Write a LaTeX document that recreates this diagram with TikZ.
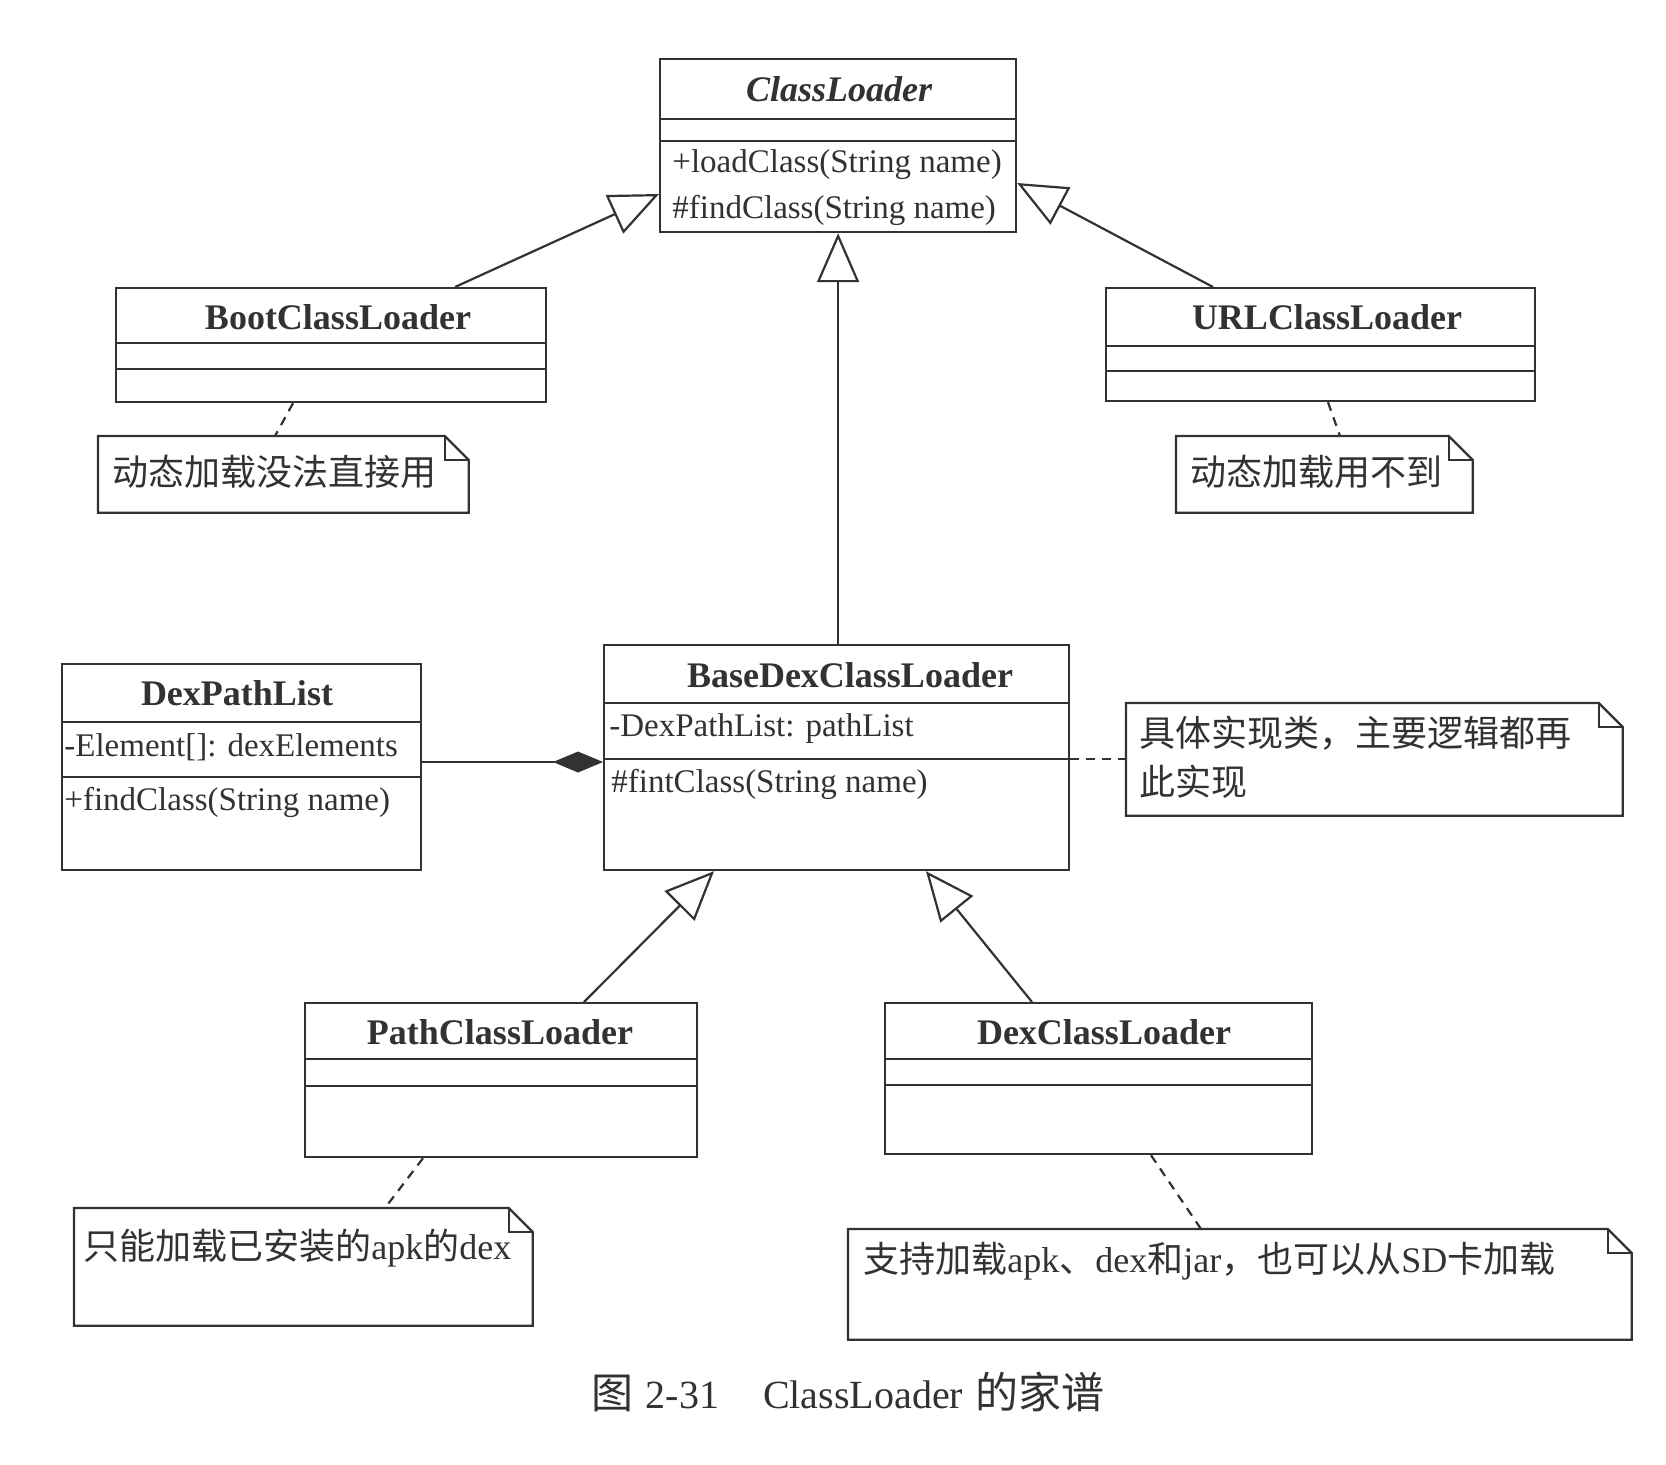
\documentclass[tikz,border=0pt]{standalone}
\usepackage{fontspec}
\setmainfont{Liberation Serif}
\newfontfamily\cjk{Noto Sans CJK SC}
\usetikzlibrary{arrows.meta,calc}
\definecolor{ink}{RGB}{50,50,50}
\newcommand\divline[2]{\draw[divl] (#1.west |- 0,#2) -- (#1.east |- 0,#2);}
\newcommand\notepath[1]{%
  \draw[divl] (#1.north west) -- ([xshift=-12pt]#1.north east) -- ([yshift=-12pt]#1.north east) -- (#1.south east) -- (#1.south west) -- cycle;
  \draw[divl] ([xshift=-12pt]#1.north east) |- ([yshift=-12pt]#1.north east);}
\begin{document}
\begin{tikzpicture}[x=0.5pt,y=-0.5pt,
  umlbox/.style={draw=ink, line width=1.1pt, rectangle, inner sep=0pt, anchor=north west},
  notebox/.style={rectangle, inner sep=0pt, anchor=north west},
  ttl/.style={inner sep=0pt, text=ink, font=\fontsize{18pt}{21pt}\selectfont\bfseries},
  mem/.style={inner sep=0pt, anchor=west, text=ink, font=\fontsize{16.5pt}{20pt}\selectfont},
  ntxt/.style={inner sep=0pt, anchor=west, text=ink, font=\fontsize{18pt}{24.5pt}\selectfont\cjk},
  inh/.style={draw=ink, line width=1.1pt, -{Triangle[open, length=24.5pt, width=21pt]}},
  comp/.style={draw=ink, line width=1.1pt, -{Diamond[length=25pt, width=10.5pt, fill=ink]}},
  link/.style={draw=ink, line width=1.1pt, dash pattern=on 4.5pt off 3.5pt},
  divl/.style={draw=ink, line width=1.1pt}]
\fill[white] (0,0) rectangle (1666,1464);
\useasboundingbox (0,0) rectangle (1666,1464);

% class boxes
\node[umlbox, minimum width=178pt, minimum height=86.5pt] (cl) at (659,58) {};
\divline{cl}{119}\divline{cl}{141}
\node[umlbox, minimum width=215pt, minimum height=57pt] (boot) at (115,287) {};
\divline{boot}{343}\divline{boot}{369}
\node[umlbox, minimum width=214.5pt, minimum height=56.5pt] (url) at (1105,287) {};
\divline{url}{346}\divline{url}{371}
\node[umlbox, minimum width=179.5pt, minimum height=103pt] (dpl) at (61,663) {};
\divline{dpl}{722}\divline{dpl}{777}
\node[umlbox, minimum width=232.5pt, minimum height=112.5pt] (base) at (603,644) {};
\divline{base}{703}\divline{base}{759}
\node[umlbox, minimum width=196pt, minimum height=77pt] (path) at (304,1002) {};
\divline{path}{1059}\divline{path}{1086}
\node[umlbox, minimum width=213.5pt, minimum height=75.5pt] (dex) at (884,1002) {};
\divline{dex}{1059}\divline{dex}{1085}

% class texts
\node[ttl] (clT) at (839,89) {\itshape ClassLoader};
\node[mem] (clM1) at (672,165) {+loadClass(String name)};
\node[mem] (clM2) at (672,210) {\#findClass(String name)};
\node[ttl] (bootT) at (338,317) {BootClassLoader};
\node[ttl] (urlT) at (1327,317) {URLClassLoader};
\node[ttl] (dplT) at (237,693) {DexPathList};
\node[mem] (dplA) at (64,747) {-Element[]: dexElements};
\node[mem] (dplM) at (64,802) {+findClass(String name)};
\node[ttl] (baseT) at (850,675) {BaseDexClassLoader};
\node[mem] (baseA) at (609,729) {-DexPathList: pathList};
\node[mem] (baseM) at (611,784) {\#fintClass(String name)};
\node[ttl] (pathT) at (500,1032) {PathClassLoader};
\node[ttl] (dexT) at (1104,1032) {DexClassLoader};

% notes
\node[notebox, minimum width=185pt, minimum height=38pt] (nboot) at (98,436) {};
\notepath{nboot}
\node[ntxt] (nbootT) at (112,472) {动态加载没法直接用};
\node[notebox, minimum width=148pt, minimum height=38pt] (nurl) at (1176,436) {};
\notepath{nurl}
\node[ntxt] (nurlT) at (1190,472) {动态加载用不到};
\node[notebox, minimum width=248pt, minimum height=56pt] (nbase) at (1126,703) {};
\notepath{nbase}
\node[ntxt, align=left] (nbaseT) at (1139,757) {具体实现类，主要逻辑都再\\此实现};
\node[notebox, minimum width=229pt, minimum height=58.5pt] (npath) at (74,1208) {};
\notepath{npath}
\node[ntxt] (npathT) at (83,1248) {只能加载已安装的{\rmfamily apk}的{\rmfamily dex}};
\node[notebox, minimum width=391.5pt, minimum height=55pt] (ndex) at (848,1229) {};
\notepath{ndex}
\node[ntxt] (ndexT) at (863,1261) {支持加载{\rmfamily apk}、{\rmfamily dex}和{\rmfamily jar}，也可以从{\rmfamily SD}卡加载};

% inheritance
\draw[inh] ($(boot.north west)+(340,0)$) -- ($(cl.north west)+(0,136)$);
\draw[inh] ($(url.north west)+(108,0)$) -- ($(cl.north east)+(0,125)$);
\draw[inh] (cl.south |- base.north) -- (cl.south);
\draw[inh] ($(path.north west)+(280,0)$) -- ($(base.south west)+(111,0)$);
\draw[inh] ($(dex.north west)+(148,0)$) -- ($(base.south west)+(323,0)$);

% composition
\draw[comp] ($(dpl.north east)+(0,99)$) -- ($(base.north west)+(0,118)$);

% note links
\draw[link] ($(boot.south west)+(178,0)$) -- ($(nboot.north west)+(177,0)$);
\draw[link] ($(url.south west)+(223,0)$) -- ($(nurl.north west)+(164,0)$);
\draw[link] ($(base.north east)+(0,115)$) -- ($(nbase.north west)+(0,56)$);
\draw[link] ($(path.south west)+(119,0)$) -- ($(npath.north west)+(311,0)$);
\draw[link] ($(dex.south west)+(267,0)$) -- ($(ndex.north west)+(353,0)$);

% caption
\node[inner sep=0pt, text=ink, font=\fontsize{20pt}{22pt}\selectfont] (cap) at (848,1392) {{\cjk\fontsize{21pt}{22pt}\selectfont 图}\hspace{0.3em}2-31\hspace{1.1em}ClassLoader\hspace{0.3em}{\cjk\fontsize{21.5pt}{22pt}\selectfont 的家谱}};
\end{tikzpicture}
\end{document}
